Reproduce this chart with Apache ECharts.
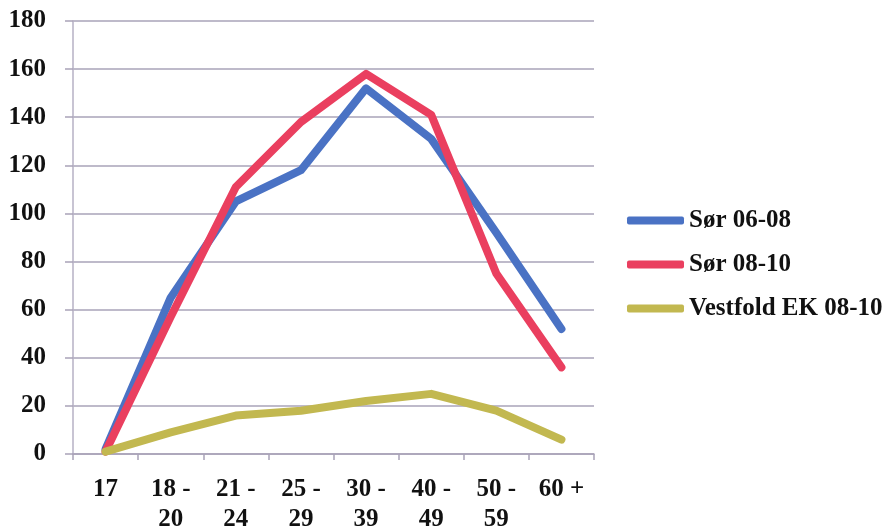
<!DOCTYPE html>
<html>
<head>
<meta charset="utf-8">
<script src="https://cdn.jsdelivr.net/npm/echarts@6/dist/echarts.min.js"></script>
<style>
html,body{margin:0;padding:0;background:#fff;}
#chart{width:891px;height:527px;}
</style>
</head>
<body>
<div id="chart"></div>
<script>
const categories = ['17', '18 -\n20', '21 -\n24', '25 -\n29', '30 -\n39', '40 -\n49', '50 -\n59', '60 +'];
const sor0608 = [2, 65, 105, 118, 152, 131, 92, 52];
const sor0810 = [1, 57, 111, 138, 158, 141, 75, 36];
const vestfold0810 = [1, 9, 16, 18, 22, 25, 18, 6];
const seriesNames = ['Sør 06-08', 'Sør 08-10', 'Vestfold EK 08-10'];
const colors = ['#4a72c4', '#ea3f5f', '#c2b850'];

const font = 'Liberation Serif';
const chart = echarts.init(document.getElementById('chart'));
const mk = (name, data, color) => ({
  name, type: 'line', data, showSymbol: false, symbol: 'none',
  lineStyle: { width: 8, color, cap: 'round', join: 'round' },
  itemStyle: { color }
});
chart.setOption({
  animation: false,
  backgroundColor: '#fff',
  color: colors,
  grid: { left: 73, right: 297, top: 21, bottom: 73, containLabel: false, outerBoundsMode: 'none' },
  legend: {
    orient: 'vertical', left: 622, top: 203,
    itemWidth: 57, itemHeight: 8, itemGap: 19, itemTextGap: 3,
    icon: 'roundRect',
    textStyle: { fontFamily: font, fontSize: 25, fontWeight: 'bold', color: '#111', lineHeight: 25 },
    data: seriesNames
  },
  xAxis: {
    type: 'category', data: categories, boundaryGap: true,
    axisLine: { lineStyle: { color: '#a9a3b8', width: 1.5 } },
    axisTick: { show: true, length: 6, lineStyle: { color: '#a9a3b8', width: 1.5 } },
    axisLabel: { fontFamily: font, fontSize: 25, fontWeight: 'bold', color: '#111', margin: 21, lineHeight: 30, interval: 0 }
  },
  yAxis: {
    type: 'value', min: 0, max: 180, interval: 20,
    axisLine: { show: true, lineStyle: { color: '#b6b0c4', width: 1.5 } },
    axisTick: { show: true, length: 8, lineStyle: { color: '#a9a3b8', width: 1.5 } },
    splitLine: { lineStyle: { color: '#a9a3b8', width: 1.5 } },
    axisLabel: { fontFamily: font, fontSize: 25, fontWeight: 'bold', color: '#111', margin: 27 }
  },
  series: [
    mk(seriesNames[0], sor0608, colors[0]),
    mk(seriesNames[1], sor0810, colors[1]),
    mk(seriesNames[2], vestfold0810, colors[2])
  ]
});
</script>
</body>
</html>
